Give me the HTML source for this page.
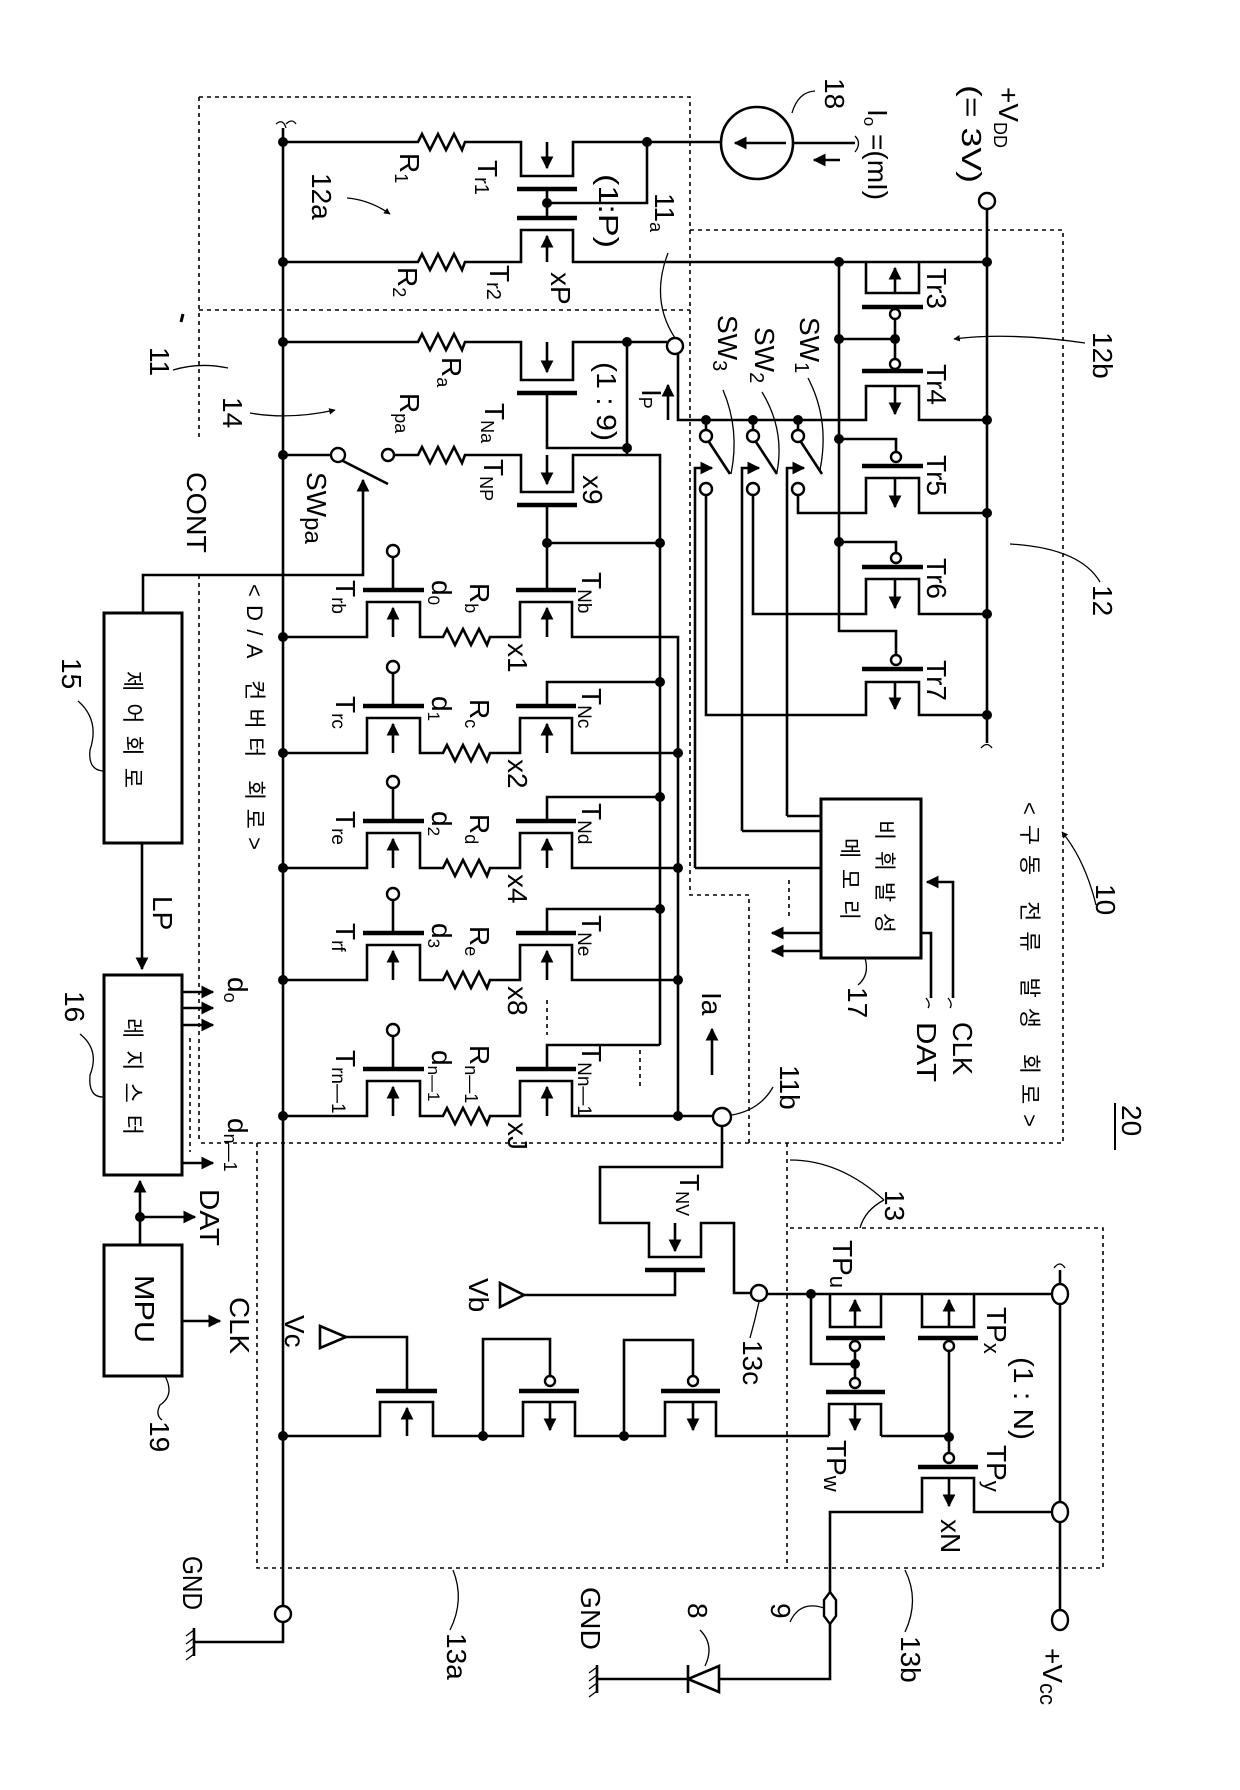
<!DOCTYPE html>
<html><head><meta charset="utf-8"><style>
html,body{margin:0;padding:0;background:#fff;}
svg{display:block;}
.w{fill:none;stroke:#000;stroke-width:2.6;stroke-linejoin:miter;}
.g{fill:none;stroke:#000;stroke-width:4.5;}
.d{fill:none;stroke:#000;stroke-width:1.6;stroke-dasharray:4 4;}
.l{fill:none;stroke:#000;stroke-width:1.3;}
.o{fill:#fff;stroke:#000;stroke-width:2.4;}
text{font-family:"Liberation Sans","Noto Sans CJK KR",sans-serif;font-size:28px;fill:#000;}
.k{font-family:"Liberation Sans","Noto Sans CJK KR",sans-serif;font-size:22px;}
</style></head><body>
<svg width="1240" height="1790" viewBox="0 0 1240 1790" xmlns="http://www.w3.org/2000/svg">
<rect width="1240" height="1790" fill="#fff"/>
<defs>
<marker id="ah" viewBox="0 0 10 10" refX="9" refY="5" markerWidth="5" markerHeight="5" orient="auto-start-reverse" markerUnits="strokeWidth"><path d="M0,0 L10,5 L0,10 z" fill="#000"/></marker>
</defs>

<!-- dashed boxes -->
<path class="d" d="M199,97 H690 V895 H749 V1143"/>
<path class="d" d="M199,310 H690"/>
<path class="d" d="M690,230 H1063 V1143 H199"/>
<path class="d" d="M199,97 V440 M199,575 V1143"/>
<path class="d" d="M257,1143 V1568 H1103 V1228 H787 M787,1143 V1568"/>

<!-- left rail -->
<path class="w" d="M283,128 V1606"/>
<path class="l" d="M276,124 Q283,118 286,128 M286,124 Q292,118 296,124"/>
<g fill="#000">
<circle cx="283" cy="142" r="5"/><circle cx="283" cy="262" r="5"/><circle cx="283" cy="342" r="5"/><circle cx="283" cy="455" r="5"/>
<circle cx="283" cy="637" r="5"/><circle cx="283" cy="753" r="5"/><circle cx="283" cy="868" r="5"/><circle cx="283" cy="980" r="5"/><circle cx="283" cy="1116" r="5"/><circle cx="283" cy="1436" r="5"/>
</g>

<!-- Row R1 / Tr1 -->
<path class="w" d="M283,142 H418 l4,-8 l8,16 l8,-16 l8,16 l8,-16 l8,16 l3,-8 H521 V176 H573 V142 H721"/>
<path class="g" d="M517,189 H577 M517,218 H577"/>
<path class="w" d="M547,189 V218 M547,203 H647 V142"/>
<path class="w" d="M547,142 V168" marker-end="url(#ah)"/>
<g fill="#000"><circle cx="647" cy="142" r="5"/><circle cx="547" cy="203" r="5"/></g>
<!-- Tr2 / R2 row -->
<path class="w" d="M283,262 H418 l4,-8 l8,16 l8,-16 l8,16 l8,-16 l8,16 l3,-8 H521 V230 H573 V262 H987"/>
<path class="w" d="M547,262 V236" marker-end="url(#ah)"/>
<!-- current source -->
<circle cx="757" cy="143" r="36" class="w"/>
<path class="w" d="M786,143 H735" marker-end="url(#ah)"/>
<path class="w" d="M793,143 H855"/>
<path class="l" d="M855,136 Q862,143 855,152"/>
<path class="w" d="M840,160 H814" marker-end="url(#ah)"/>

<!-- Ra / TNa -->
<path class="w" d="M283,342 H418 l4,-8 l8,16 l8,-16 l8,16 l8,-16 l8,16 l3,-8 H521 V380 H573 V342 H667"/>
<path class="g" d="M517,393 H577 M517,505 H577"/>
<path class="w" d="M547,342 V372" marker-end="url(#ah)"/>
<path class="w" d="M547,393 V448 H627 M627,342 V455 H660 V1045"/>
<circle cx="675" cy="346" r="8" class="o"/>
<path class="w" d="M668,420 V385" marker-end="url(#ah)"/>
<!-- SWpa / Rpa / TNP -->
<path class="w" d="M283,455 H331 M394,455 H418 l4,-8 l8,16 l8,-16 l8,16 l8,-16 l8,16 l3,-8 H521 V492 H573 V455 H627"/>
<circle cx="338" cy="455" r="7" class="o"/><circle cx="388" cy="455" r="6" class="o"/>
<path class="w" d="M343,461 L388,484"/>
<path class="w" d="M547,455 V484" marker-end="url(#ah)"/>
<path class="w" d="M143,613 V575 H363 V480" marker-end="url(#ah)"/>
<path class="w" d="M547,505 V590 M547,543 H660"/>
<g fill="#000"><circle cx="627" cy="342" r="5"/><circle cx="627" cy="448" r="5"/><circle cx="547" cy="543" r="5"/><circle cx="660" cy="543" r="5"/></g>

<!-- D/A rows -->
<g>
<path class="w" d="M283,637 H367 V602 H420 V637 H443 l4,-8 l8,16 l8,-16 l8,16 l8,-16 l8,16 l3,-8 H520 V602 H572 V637 H678 V1116"/>
<path class="g" d="M363,590 H424 M516,590 H576"/>
<path class="w" d="M393,590 V557"/><circle cx="393" cy="551" r="6" class="o"/>
<path class="w" d="M393,637 V608" marker-end="url(#ah)"/><path class="w" d="M547,637 V608" marker-end="url(#ah)"/>

<path class="w" d="M283,753 H367 V718 H420 V753 H443 l4,-8 l8,16 l8,-16 l8,16 l8,-16 l8,16 l3,-8 H520 V718 H572 V753 H678"/>
<path class="g" d="M363,706 H424 M516,706 H576"/>
<path class="w" d="M393,706 V673 M547,706 V682 H660"/><circle cx="393" cy="667" r="6" class="o"/>
<path class="w" d="M393,753 V724" marker-end="url(#ah)"/><path class="w" d="M547,753 V724" marker-end="url(#ah)"/>

<path class="w" d="M283,868 H367 V833 H420 V868 H443 l4,-8 l8,16 l8,-16 l8,16 l8,-16 l8,16 l3,-8 H520 V833 H572 V868 H678"/>
<path class="g" d="M363,821 H424 M516,821 H576"/>
<path class="w" d="M393,821 V788 M547,821 V797 H660"/><circle cx="393" cy="782" r="6" class="o"/>
<path class="w" d="M393,868 V839" marker-end="url(#ah)"/><path class="w" d="M547,868 V839" marker-end="url(#ah)"/>

<path class="w" d="M283,980 H367 V945 H420 V980 H443 l4,-8 l8,16 l8,-16 l8,16 l8,-16 l8,16 l3,-8 H520 V945 H572 V980 H678"/>
<path class="g" d="M363,933 H424 M516,933 H576"/>
<path class="w" d="M393,933 V900 M547,933 V909 H660"/><circle cx="393" cy="894" r="6" class="o"/>
<path class="w" d="M393,980 V951" marker-end="url(#ah)"/><path class="w" d="M547,980 V951" marker-end="url(#ah)"/>

<path class="w" d="M283,1116 H367 V1081 H420 V1116 H443 l4,-8 l8,16 l8,-16 l8,16 l8,-16 l8,16 l3,-8 H520 V1081 H572 V1116 H714"/>
<path class="g" d="M363,1069 H424 M516,1069 H576"/>
<path class="w" d="M393,1069 V1036 M547,1069 V1045 H660"/><circle cx="393" cy="1030" r="6" class="o"/>
<path class="w" d="M393,1116 V1087" marker-end="url(#ah)"/><path class="w" d="M547,1116 V1087" marker-end="url(#ah)"/>
<g fill="#000">
<circle cx="660" cy="682" r="5"/><circle cx="660" cy="797" r="5"/><circle cx="660" cy="909" r="5"/>
<circle cx="678" cy="753" r="5"/><circle cx="678" cy="868" r="5"/><circle cx="678" cy="980" r="5"/><circle cx="678" cy="1116" r="5"/>
</g>
<path class="d" d="M547,1000 V1035 M640,1050 V1090"/>
</g>

<!-- 11a down to switches & Tr4 -->
<path class="w" d="M678,354 V420 H866 V386 H919 V420 H987"/>
<!-- VDD rail -->
<circle cx="987" cy="201" r="8" class="o"/>
<path class="w" d="M987,209 V743"/>
<path class="l" d="M981,748 Q987,741 992,748"/>
<!-- Tr3 -->
<path class="w" d="M866,262 V293 H919 V262"/>
<path class="w" d="M895,293 V268" marker-end="url(#ah)"/>
<path class="g" d="M862,307 H923 M862,371 H923"/>
<circle cx="895" cy="314" r="5" class="o"/><circle cx="895" cy="364" r="5" class="o"/>
<path class="w" d="M895,319 V359 M839,339 H895 M839,262 V631 H896 V655"/>
<path class="w" d="M895,386 V414" marker-end="url(#ah)"/>
<!-- Tr5 -->
<path class="w" d="M839,439 H896 V452"/><circle cx="896" cy="457" r="5" class="o"/>
<path class="g" d="M862,466 H923"/>
<path class="w" d="M798,495 V513 H866 V478 H919 V513 H987"/>
<path class="w" d="M895,478 V507" marker-end="url(#ah)"/>
<!-- Tr6 -->
<path class="w" d="M839,542 H896 V553"/><circle cx="896" cy="558" r="5" class="o"/>
<path class="g" d="M862,567 H923"/>
<path class="w" d="M753,495 V614 H866 V579 H919 V614 H987"/>
<path class="w" d="M895,579 V608" marker-end="url(#ah)"/>
<!-- Tr7 -->
<circle cx="896" cy="660" r="5" class="o"/>
<path class="g" d="M862,669 H923"/>
<path class="w" d="M706,495 V715 H866 V682 H919 V715 H987"/>
<path class="w" d="M895,682 V709" marker-end="url(#ah)"/>
<g fill="#000">
<circle cx="839" cy="262" r="5"/><circle cx="839" cy="339" r="5"/><circle cx="895" cy="339" r="5"/><circle cx="839" cy="439" r="5"/><circle cx="839" cy="542" r="5"/>
<circle cx="987" cy="262" r="5"/><circle cx="987" cy="420" r="5"/><circle cx="987" cy="513" r="5"/><circle cx="987" cy="614" r="5"/><circle cx="987" cy="715" r="5"/>
<circle cx="706" cy="420" r="5"/><circle cx="753" cy="420" r="5"/><circle cx="798" cy="420" r="5"/>
</g>
<!-- switches -->
<g>
<path class="w" d="M706,420 V430 M753,420 V430 M798,420 V430"/>
<circle cx="706" cy="436" r="6" class="o"/><circle cx="753" cy="436" r="6" class="o"/><circle cx="798" cy="436" r="6" class="o"/>
<circle cx="706" cy="489" r="6" class="o"/><circle cx="753" cy="489" r="6" class="o"/><circle cx="798" cy="489" r="6" class="o"/>
<path class="w" d="M709,442 L730,474 M756,442 L777,474 M801,442 L822,474"/>
<path class="w" d="M695,868 V468 H712" marker-end="url(#ah)"/>
<path class="w" d="M742,831 V468 H759" marker-end="url(#ah)"/>
<path class="w" d="M787,816 V468 H804" marker-end="url(#ah)"/>
<path class="w" d="M695,868 H821 M742,831 H821 M787,816 H821"/>
</g>
<!-- memory -->
<rect x="821" y="799" width="100" height="159" class="w" style="stroke-width:3"/>
<path class="w" d="M821,933 H772" marker-end="url(#ah)"/>
<path class="w" d="M821,951 H772" marker-end="url(#ah)"/>
<path class="d" d="M789,880 V918"/>
<path class="w" d="M953,998 V882 H927" marker-end="url(#ah)"/>
<path class="w" d="M921,933 H931 V998"/>
<path class="l" d="M926,998 Q931,1004 928,1008 M948,998 Q953,1004 950,1008"/>

<!-- 11b, TNV -->
<circle cx="722" cy="1117" r="9" class="o"/>
<path class="w" d="M722,1126 V1167 H600 V1223 H649 V1257 H701 V1223 H734 V1293 H751"/>
<path class="g" d="M645,1270 H705"/>
<path class="w" d="M675,1223 V1251" marker-end="url(#ah)"/>
<path class="w" d="M675,1270 V1295 H524"/>
<polygon points="500,1283 500,1307 524,1295" fill="#fff" stroke="#000" stroke-width="2.6"/>
<circle cx="759" cy="1293" r="8" class="o"/>
<path class="w" d="M767,1294 H1051"/>
<!-- TPu / TPw -->
<path class="w" d="M830,1294 V1327 H881 V1294"/>
<path class="w" d="M855,1327 V1300" marker-end="url(#ah)"/>
<path class="g" d="M826,1338 H885 M826,1392 H885 M918,1338 H978 M918,1467 H978"/>
<circle cx="855" cy="1346" r="5" class="o"/><circle cx="855" cy="1383" r="5" class="o"/>
<path class="w" d="M855,1351 V1378 M811,1294 V1364 H855"/>
<path class="w" d="M829,1436 V1404 H881 V1436"/>
<path class="w" d="M855,1404 V1430" marker-end="url(#ah)"/>
<!-- TPx / TPy -->
<path class="w" d="M922,1294 V1327 H974 V1294"/>
<path class="w" d="M949,1327 V1300" marker-end="url(#ah)"/>
<circle cx="949" cy="1346" r="5" class="o"/><circle cx="949" cy="1458" r="5" class="o"/>
<path class="w" d="M949,1351 V1453"/>
<path class="w" d="M830,1598 V1512 H922 V1478 H974 V1512 H1051"/>
<path class="w" d="M949,1478 V1506" marker-end="url(#ah)"/>
<g fill="#000"><circle cx="811" cy="1294" r="5"/><circle cx="855" cy="1364" r="5"/><circle cx="949" cy="1437" r="5"/><circle cx="483" cy="1436" r="5"/><circle cx="624" cy="1436" r="5"/></g>
<!-- bottom chain -->
<path class="w" d="M283,1436 H380 V1402 H433 V1436 H523 V1402 H575 V1436 H665 V1402 H716 V1436 H829 M881,1436 H949"/>
<path class="g" d="M376,1391 H437 M519,1391 H579 M661,1391 H720"/>
<path class="w" d="M407,1391 V1337 H346"/>
<polygon points="320,1326 320,1348 346,1337" fill="#fff" stroke="#000" stroke-width="2.6"/>
<circle cx="550" cy="1381" r="5" class="o"/><circle cx="693" cy="1381" r="5" class="o"/>
<path class="w" d="M550,1376 V1339 H483 V1436 M693,1376 V1340 H624 V1436"/>
<path class="w" d="M407,1436 V1408" marker-end="url(#ah)"/>
<path class="w" d="M550,1402 V1430" marker-end="url(#ah)"/>
<path class="w" d="M693,1402 V1430" marker-end="url(#ah)"/>
<!-- Vcc rail -->
<path class="w" d="M1060,1270 V1285 M1060,1303 V1503 M1060,1521 V1611"/>
<path class="l" d="M1054,1268 Q1060,1260 1065,1268"/>
<ellipse cx="1060" cy="1294" rx="8" ry="10" class="o"/><ellipse cx="1060" cy="1512" rx="8" ry="10" class="o"/><ellipse cx="1060" cy="1620" rx="8" ry="10" class="o"/>
<!-- node 9, diode -->
<path class="o" d="M830,1592 L836,1600 L836,1616 L830,1624 L824,1616 L824,1600 Z"/>
<path class="w" d="M830,1624 V1679 H719 M688,1679 H597 M688,1665 V1693 M597,1665 V1693"/>
<polygon points="719,1666 719,1692 688,1679" fill="#fff" stroke="#000" stroke-width="2.6"/>
<path class="l" d="M597,1667 l-8,6 M597,1675 l-8,6 M597,1683 l-8,6 M597,1691 l-8,6"/>
<!-- GND left -->
<circle cx="283" cy="1614" r="8" class="o"/>
<path class="w" d="M283,1622 V1642 H194 M194,1628 V1656"/>
<path class="l" d="M194,1630 l-8,6 M194,1638 l-8,6 M194,1646 l-8,6 M194,1654 l-8,6"/>

<!-- left blocks -->
<rect x="104" y="613" width="78" height="230" class="w" style="stroke-width:3"/>
<rect x="104" y="975" width="78" height="200" class="w" style="stroke-width:3"/>
<rect x="104" y="1245" width="78" height="131" class="w" style="stroke-width:3"/>
<path class="w" d="M142,843 V969" marker-end="url(#ah)"/>
<path class="w" d="M182,992 H213" marker-end="url(#ah)"/>
<path class="w" d="M182,1008 H213" marker-end="url(#ah)"/>
<path class="w" d="M182,1025 H213" marker-end="url(#ah)"/>
<path class="w" d="M182,1163 H213" marker-end="url(#ah)"/>
<path class="d" d="M190,1038 V1152"/>
<path class="w" d="M140,1245 V1181" marker-end="url(#ah)"/>
<path class="w" d="M140,1217 H195" marker-end="url(#ah)"/>
<circle cx="140" cy="1217" r="5" fill="#000"/>
<path class="w" d="M182,1321 H220" marker-end="url(#ah)"/>

<!-- leaders -->
<path class="l" d="M815,91 Q798,92 792,113"/>
<path class="l" d="M1085,343 Q1010,332 954,339" marker-end="url(#ah)"/>
<path class="l" d="M1100,582 Q1080,548 1010,544"/>
<path class="l" d="M1096,905 Q1085,860 1062,832" marker-end="url(#ah)"/>
<path class="l" d="M668,253 Q650,300 675,338"/>
<path class="l" d="M808,378 Q830,420 820,470"/>
<path class="l" d="M762,392 Q785,430 777,472"/>
<path class="l" d="M723,390 Q740,430 731,474"/>
<path class="l" d="M347,198 Q370,200 390,214" marker-end="url(#ah)"/>
<path class="l" d="M250,413 Q290,420 335,410" marker-end="url(#ah)"/>
<path class="l" d="M173,370 Q200,362 228,368"/>
<path class="l" d="M78,701 Q100,720 90,750 Q88,770 103,771"/>
<path class="l" d="M80,1034 Q100,1050 90,1075 Q88,1097 103,1097"/>
<path class="l" d="M165,1376 Q175,1395 160,1405 Q155,1415 162,1420"/>
<path class="l" d="M865,958 Q870,975 858,985"/>
<path class="l" d="M732,1115 Q760,1110 773,1087"/>
<path class="l" d="M759,1302 Q755,1320 750,1338"/>
<path class="l" d="M790,1160 Q840,1160 884,1200 M860,1228 Q865,1210 884,1200"/>
<path class="l" d="M453,1570 Q465,1600 450,1630"/>
<path class="l" d="M905,1570 Q920,1600 905,1632"/>
<path class="l" d="M824,1608 Q800,1600 790,1622"/>
<path class="l" d="M705,1666 Q715,1645 700,1630"/>
<path class="l" d="M1115,1103 V1150" style="stroke-width:2"/>
<path class="l" d="M183,314 l-2,8" style="stroke-width:3"/>

<!-- labels -->
<g>
<text transform="translate(999,87) rotate(90)" font-size="30">+V<tspan font-size="18" dy="5">DD</tspan></text>
<text transform="translate(962,85) rotate(90)" font-size="30" textLength="98" lengthAdjust="spacingAndGlyphs">(= 3V)</text>
<text transform="translate(825,78) rotate(90)" font-size="30">18</text>
<text transform="translate(868,109) rotate(90)" font-size="26">I<tspan font-size="17" dy="4">o</tspan><tspan dy="-4"> =(mI)</tspan></text>
<text transform="translate(400,153) rotate(90)" font-size="30">R<tspan font-size="18" dy="5">1</tspan></text>
<text transform="translate(478,160) rotate(90)" font-size="28">T<tspan font-size="20" dy="3">r1</tspan></text>
<text transform="translate(599,174) rotate(90)" font-size="26" textLength="74" lengthAdjust="spacingAndGlyphs">(1:P)</text>
<text transform="translate(655,193) rotate(90)" font-size="28">11<tspan font-size="18" dy="5">a</tspan></text>
<text transform="translate(312,173) rotate(90)" font-size="30">12a</text>
<text transform="translate(398,267) rotate(90)" font-size="30">R<tspan font-size="18" dy="5">2</tspan></text>
<text transform="translate(490,265) rotate(90)" font-size="28">T<tspan font-size="20" dy="3">r2</tspan></text>
<text transform="translate(551,272) rotate(90)" font-size="28">xP</text>
<text transform="translate(442,357) rotate(90)" font-size="30">R<tspan font-size="18" dy="5">a</tspan></text>
<text transform="translate(485,403) rotate(90)" font-size="28">T<tspan font-size="18" dy="4">Na</tspan></text>
<text transform="translate(597,362) rotate(90)" font-size="26" textLength="79" lengthAdjust="spacingAndGlyphs">(1 : 9)</text>
<text transform="translate(642,389) rotate(90)" font-size="24">I<tspan font-size="18" dy="3">P</tspan></text>
<text transform="translate(400,393) rotate(90)" font-size="30">R<tspan font-size="18" dy="5">pa</tspan></text>
<text transform="translate(484,459) rotate(90)" font-size="28">T<tspan font-size="18" dy="4">NP</tspan></text>
<text transform="translate(583,475) rotate(90)" font-size="26">x9</text>
<text transform="translate(223,397) rotate(90)" font-size="30">14</text>
<text transform="translate(150,347) rotate(90)" font-size="30">11</text>
<text transform="translate(187,472) rotate(90)" font-size="28" textLength="81" lengthAdjust="spacingAndGlyphs">CONT</text>
<text transform="translate(307,472) rotate(90)" font-size="32">SW<tspan font-size="24" dy="2">pa</tspan></text>
<text transform="translate(800,317) rotate(90)" font-size="32">SW<tspan font-size="20" dy="5">1</tspan></text>
<text transform="translate(755,327) rotate(90)" font-size="32">SW<tspan font-size="20" dy="5">2</tspan></text>
<text transform="translate(718,315) rotate(90)" font-size="32">SW<tspan font-size="20" dy="5">3</tspan></text>
<text transform="translate(927,268) rotate(90)" font-size="28">Tr3</text>
<text transform="translate(927,364) rotate(90)" font-size="28">Tr4</text>
<text transform="translate(927,455) rotate(90)" font-size="28">Tr5</text>
<text transform="translate(927,558) rotate(90)" font-size="28">Tr6</text>
<text transform="translate(927,660) rotate(90)" font-size="28">Tr7</text>
<text transform="translate(1093,332) rotate(90)" font-size="30">12b</text>
<text transform="translate(1093,585) rotate(90)" font-size="30">12</text>
<text transform="translate(1096,884) rotate(90)" font-size="30">10</text>
<text class="k" transform="translate(1022,802) rotate(90)" font-size="24" textLength="325" lengthAdjust="spacing">&lt;구동 전류 발생 회로&gt;</text>
<text class="k" transform="translate(247,584) rotate(90)" font-size="22" textLength="266" lengthAdjust="spacing">&lt;D/A 컨버터 회로&gt;</text>
<text class="k" transform="translate(877,820) rotate(90)" font-size="23" textLength="113" lengthAdjust="spacing">비휘발성</text>
<text class="k" transform="translate(842,838) rotate(90)" font-size="23" textLength="82" lengthAdjust="spacing">메모리</text>
<text class="k" transform="translate(125,671) rotate(90)" font-size="26" textLength="117" lengthAdjust="spacing">제어회로</text>
<text class="k" transform="translate(125,1018) rotate(90)" font-size="26" textLength="117" lengthAdjust="spacing">레지스터</text>
<text transform="translate(135,1275) rotate(90)" font-size="28" textLength="68" lengthAdjust="spacingAndGlyphs">MPU</text>
<text transform="translate(62,658) rotate(90)" font-size="30">15</text>
<text transform="translate(65,991) rotate(90)" font-size="30">16</text>
<text transform="translate(150,1421) rotate(90)" font-size="30">19</text>
<text transform="translate(153,896) rotate(90)" font-size="30">LP</text>
<text transform="translate(228,977) rotate(90)" font-size="28">d<tspan font-size="18" dy="4">o</tspan></text>
<text transform="translate(228,1118) rotate(90)" font-size="28">d<tspan font-size="18" dy="4">n—1</tspan></text>
<text transform="translate(200,1189) rotate(90)" font-size="28" textLength="57" lengthAdjust="spacingAndGlyphs">DAT</text>
<text transform="translate(230,1297) rotate(90)" font-size="28" textLength="57" lengthAdjust="spacingAndGlyphs">CLK</text>
<!-- D/A row labels -->
<text transform="translate(336,580) rotate(90)" font-size="30">T<tspan font-size="19" dy="4">rb</tspan></text>
<text transform="translate(432,580) rotate(90)" font-size="26">d<tspan font-size="17" dy="4">0</tspan></text>
<text transform="translate(470,583) rotate(90)" font-size="30">R<tspan font-size="18" dy="5">b</tspan></text>
<text transform="translate(582,572) rotate(90)" font-size="30">T<tspan font-size="19" dy="4">Nb</tspan></text>
<text transform="translate(508,643) rotate(90)" font-size="28">x1</text>
<text transform="translate(336,696) rotate(90)" font-size="30">T<tspan font-size="19" dy="4">rc</tspan></text>
<text transform="translate(432,696) rotate(90)" font-size="26">d<tspan font-size="17" dy="4">1</tspan></text>
<text transform="translate(470,699) rotate(90)" font-size="30">R<tspan font-size="18" dy="5">c</tspan></text>
<text transform="translate(582,688) rotate(90)" font-size="30">T<tspan font-size="19" dy="4">Nc</tspan></text>
<text transform="translate(508,759) rotate(90)" font-size="28">x2</text>
<text transform="translate(336,811) rotate(90)" font-size="30">T<tspan font-size="19" dy="4">re</tspan></text>
<text transform="translate(432,811) rotate(90)" font-size="26">d<tspan font-size="17" dy="4">2</tspan></text>
<text transform="translate(470,814) rotate(90)" font-size="30">R<tspan font-size="18" dy="5">d</tspan></text>
<text transform="translate(582,803) rotate(90)" font-size="30">T<tspan font-size="19" dy="4">Nd</tspan></text>
<text transform="translate(508,874) rotate(90)" font-size="28">x4</text>
<text transform="translate(336,923) rotate(90)" font-size="30">T<tspan font-size="19" dy="4">rf</tspan></text>
<text transform="translate(432,923) rotate(90)" font-size="26">d<tspan font-size="17" dy="4">3</tspan></text>
<text transform="translate(470,926) rotate(90)" font-size="30">R<tspan font-size="18" dy="5">e</tspan></text>
<text transform="translate(582,915) rotate(90)" font-size="30">T<tspan font-size="19" dy="4">Ne</tspan></text>
<text transform="translate(508,986) rotate(90)" font-size="28">x8</text>
<text transform="translate(336,1050) rotate(90)" font-size="30">T<tspan font-size="19" dy="4">rn—1</tspan></text>
<text transform="translate(432,1050) rotate(90)" font-size="26">d<tspan font-size="17" dy="4">n—1</tspan></text>
<text transform="translate(470,1045) rotate(90)" font-size="30">R<tspan font-size="18" dy="5">n—1</tspan></text>
<text transform="translate(582,1045) rotate(90)" font-size="30">T<tspan font-size="19" dy="4">Nn—1</tspan></text>
<text transform="translate(508,1122) rotate(90)" font-size="28">xJ</text>
<text transform="translate(702,992) rotate(90)" font-size="28">Ia</text>
<text transform="translate(780,1065) rotate(90)" font-size="30">11b</text>
<text transform="translate(848,987) rotate(90)" font-size="30">17</text>
<text transform="translate(953,1022) rotate(90)" font-size="28" textLength="53" lengthAdjust="spacingAndGlyphs">CLK</text>
<text transform="translate(917,1022) rotate(90)" font-size="28" textLength="60" lengthAdjust="spacingAndGlyphs">DAT</text>
<text transform="translate(1122,1105) rotate(90)" font-size="30">20</text>
<text transform="translate(885,1190) rotate(90)" font-size="30">13</text>
<text transform="translate(680,1174) rotate(90)" font-size="28">T<tspan font-size="18" dy="4">NV</tspan></text>
<text transform="translate(469,1278) rotate(90)" font-size="30">Vb</text>
<text transform="translate(285,1315) rotate(90)" font-size="30">Vc</text>
<text transform="translate(743,1340) rotate(90)" font-size="30">13c</text>
<text transform="translate(833,1240) rotate(90)" font-size="30">TP<tspan font-size="22" dy="3">u</tspan></text>
<text transform="translate(987,1307) rotate(90)" font-size="30">TP<tspan font-size="22" dy="3">x</tspan></text>
<text transform="translate(1014,1357) rotate(90)" font-size="28" textLength="83" lengthAdjust="spacingAndGlyphs">(1 : N)</text>
<text transform="translate(987,1445) rotate(90)" font-size="30">TP<tspan font-size="22" dy="3">y</tspan></text>
<text transform="translate(827,1440) rotate(90)" font-size="30">TP<tspan font-size="22" dy="3">w</tspan></text>
<text transform="translate(941,1519) rotate(90)" font-size="28">xN</text>
<text transform="translate(183,1556) rotate(90)" font-size="28" textLength="54" lengthAdjust="spacingAndGlyphs">GND</text>
<text transform="translate(581,1587) rotate(90)" font-size="28" textLength="63" lengthAdjust="spacingAndGlyphs">GND</text>
<text transform="translate(688,1603) rotate(90)" font-size="30">8</text>
<text transform="translate(771,1603) rotate(90)" font-size="30">9</text>
<text transform="translate(447,1633) rotate(90)" font-size="30">13a</text>
<text transform="translate(901,1636) rotate(90)" font-size="30">13b</text>
<text transform="translate(1043,1648) rotate(90)" font-size="32">+V<tspan font-size="22" dy="3">cc</tspan></text>
</g>
<path class="w" d="M712,1075 V1029" marker-end="url(#ah)"/>
</svg>
</body></html>
